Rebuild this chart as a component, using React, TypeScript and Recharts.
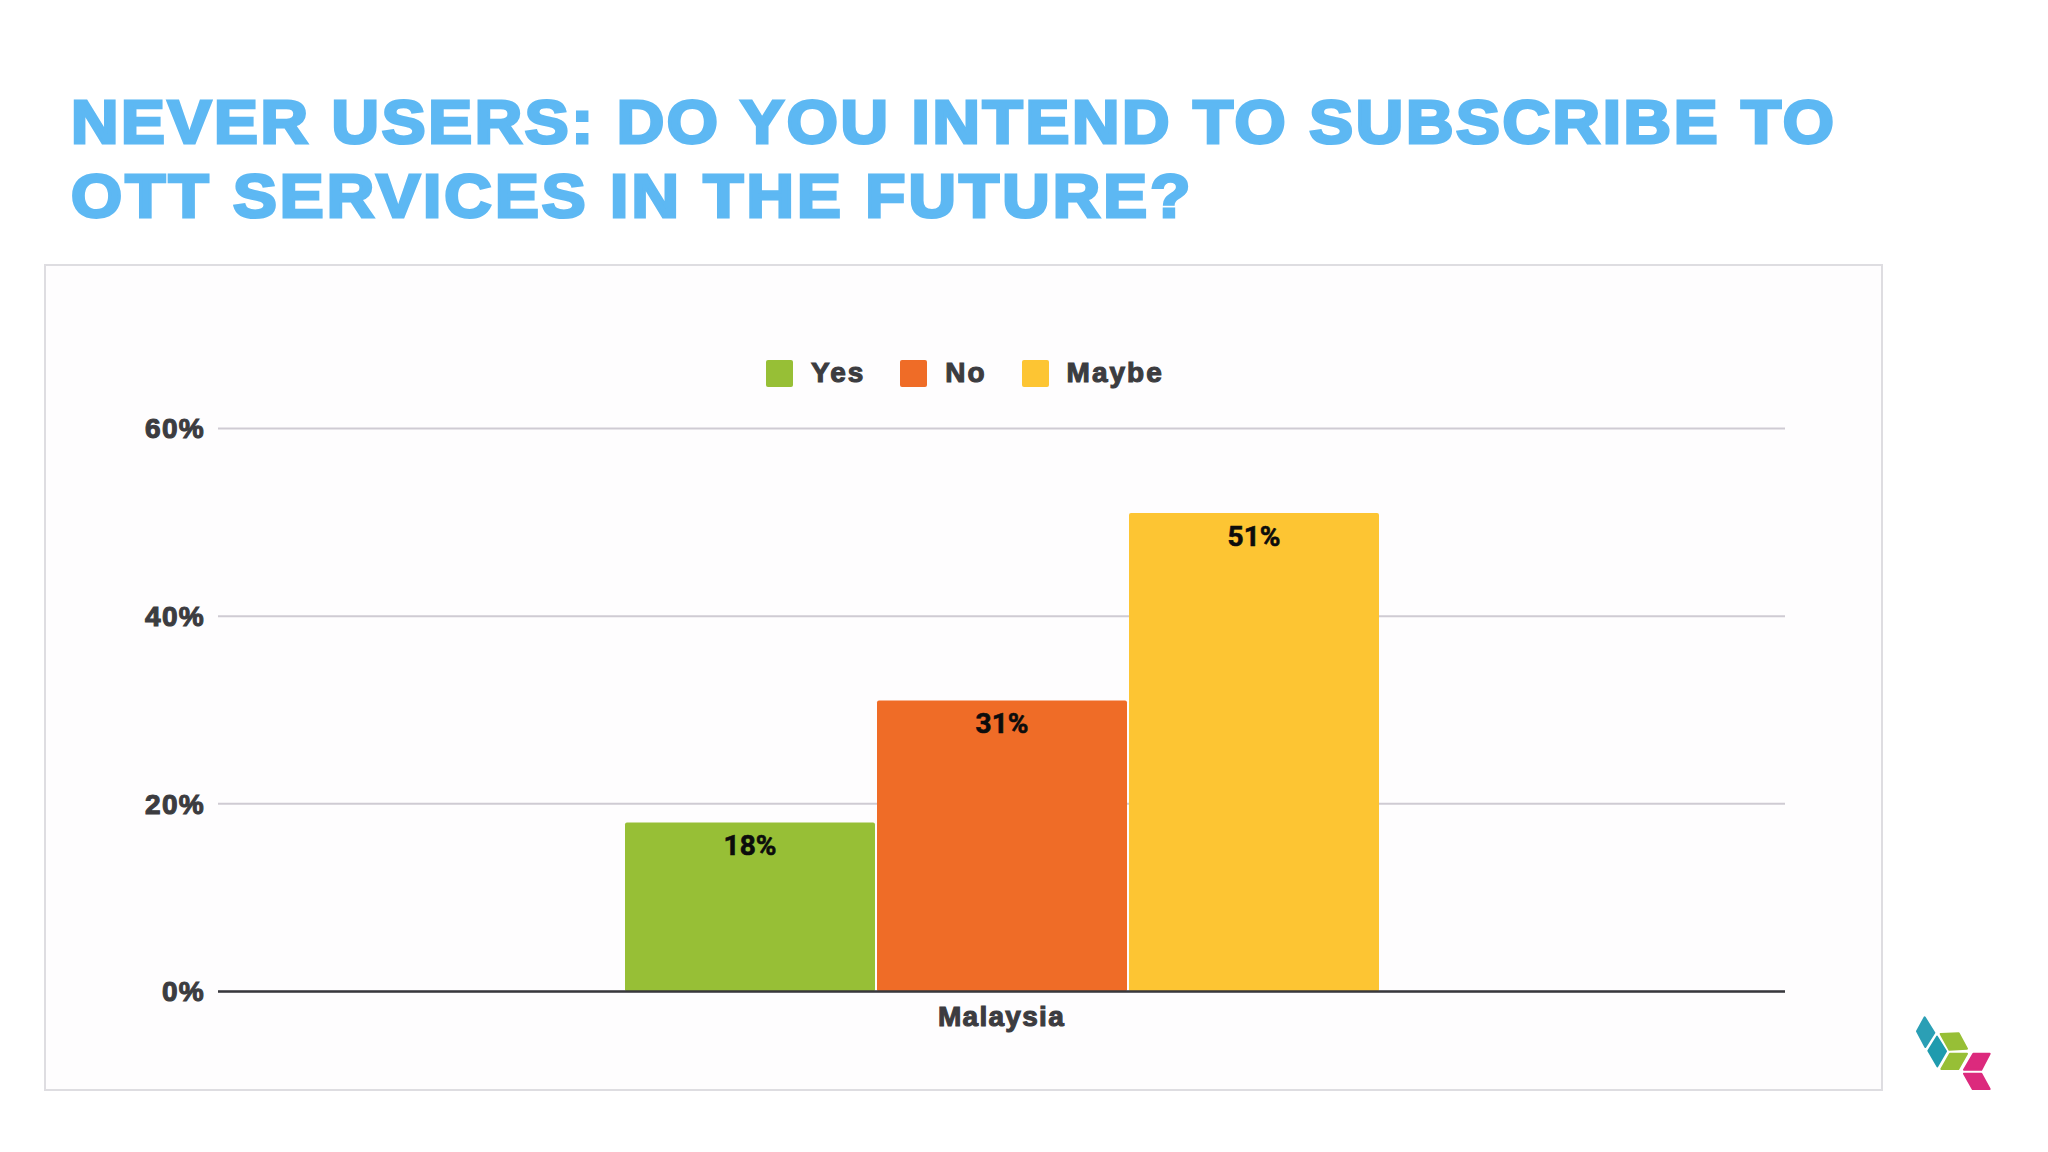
import { BarChart, Bar, XAxis, YAxis, CartesianGrid, Legend, LabelList } from "recharts";

const categories = ["Malaysia"];
const yesValues = [18];
const noValues = [31];
const maybeValues = [51];
const yTicks = [0, 20, 40, 60];
const titleLines = [
  "NEVER USERS: DO YOU INTEND TO SUBSCRIBE TO",
  "OTT SERVICES IN THE FUTURE?",
];

const data = categories.map((country, i) => ({
  country,
  Yes: yesValues[i],
  No: noValues[i],
  Maybe: maybeValues[i],
}));

const FONT = '"Liberation Sans", Arial, sans-serif';
const INK = "#3c3c40";
const tickStyle = { fontFamily: FONT, fontWeight: 700, fontSize: 28, letterSpacing: 1.3, fill: INK, stroke: INK, strokeWidth: 1.1 };
const barLabel = { fontFamily: "Roboto", fontWeight: 700, fontSize: 28, fill: "#0c0c0c", stroke: "#0c0c0c", strokeWidth: 0.6 };
const percent = (v: number) => v + "%";

function LegendRow({ payload }: any) {
  return (
    <div style={{ display: "flex", alignItems: "center", fontFamily: FONT, fontWeight: 700, fontSize: 28, letterSpacing: 2, color: INK, WebkitTextStroke: "1.1px " + INK }}>
      {(payload || []).map((p: any) => (
        <div key={p.value} style={{ display: "flex", alignItems: "center", marginRight: 35 }}>
          <span style={{ width: 27, height: 27, background: p.color, borderRadius: 2, marginRight: 18 }} />
          <span>{p.value}</span>
        </div>
      ))}
    </div>
  );
}

function Logo() {
  return (
    <svg width={248} height={192} viewBox="0 0 744 576" style={{ position: "absolute", left: 1800, top: 960 }}>
      <g strokeLinejoin="round" strokeWidth={6}>
        <polygon points="374,172 403,218 376,261 351,214" fill="#2b9fb5" stroke="#2b9fb5" />
        <polygon points="411,230 438,274 412,319 385,272" fill="#1f9bae" stroke="#1f9bae" />
        <polygon points="422,222 476,220 501,266 448,269" fill="#97bf36" stroke="#97bf36" />
        <polygon points="450,281 501,281 475,327 424,327" fill="#97bf36" stroke="#97bf36" />
        <polygon points="520,281 569,281 544,329 492,329" fill="#dc2a7d" stroke="#dc2a7d" />
        <polygon points="492,341 544,341 569,387 518,387" fill="#dc2a7d" stroke="#dc2a7d" />
      </g>
    </svg>
  );
}

export default function App() {
  return (
    <div style={{ position: "fixed", left: 0, top: 0, width: 2048, height: 1152, background: "#ffffff", overflow: "hidden" }}>
      {titleLines.map((line, i) => (
        <div
          key={line}
          style={{
            position: "absolute",
            left: 71,
            top: 86 + i * 74,
            fontFamily: FONT,
            fontWeight: 700,
            fontSize: 62,
            lineHeight: "72px",
            letterSpacing: i === 0 ? 2.5 : 2.9,
            color: "#5db8f3",
            WebkitTextStroke: "3px #5db8f3",
            whiteSpace: "nowrap",
            transform: "scaleX(1.06)",
            transformOrigin: "left center",
          }}
        >
          {line}
        </div>
      ))}
      <div style={{ position: "absolute", left: 44, top: 264, width: 1835, height: 823, border: "2px solid #dedde1", background: "#fefdfe" }} />
      <div style={{ position: "absolute", left: 0, top: 0 }}>
        <BarChart
          width={2048}
          height={1152}
          data={data}
          margin={{ left: 138, right: 263, top: 400.5, bottom: 120.5 }}
          barCategoryGap={407}
          barGap={2}
        >
          <CartesianGrid horizontal vertical={false} stroke="#cfcbd3" strokeWidth={2} />
          <XAxis
            dataKey="country"
            height={40}
            tickSize={0}
            tickMargin={15}
            axisLine={{ stroke: "#38383c", strokeWidth: 2.5 }}
            tick={tickStyle}
          />
          <YAxis
            domain={[0, 60]}
            ticks={yTicks}
            width={80}
            tickSize={0}
            tickMargin={13}
            axisLine={false}
            tickFormatter={percent}
            tick={tickStyle}
          />
          <Legend
            verticalAlign="top"
            align="left"
            itemSorter={null}
            content={<LegendRow />}
            wrapperStyle={{ left: 766, top: 357, width: 500, height: 28 }}
          />
          <Bar dataKey="Yes" fill="#97bf36" radius={2} isAnimationActive={false}>
            <LabelList dataKey="Yes" position="insideTop" offset={13} formatter={percent} style={barLabel} />
          </Bar>
          <Bar dataKey="No" fill="#ef6c27" radius={2} isAnimationActive={false}>
            <LabelList dataKey="No" position="insideTop" offset={13} formatter={percent} style={barLabel} />
          </Bar>
          <Bar dataKey="Maybe" fill="#fdc533" radius={2} isAnimationActive={false}>
            <LabelList dataKey="Maybe" position="insideTop" offset={13} formatter={percent} style={barLabel} />
          </Bar>
        </BarChart>
      </div>
      <Logo />
    </div>
  );
}
